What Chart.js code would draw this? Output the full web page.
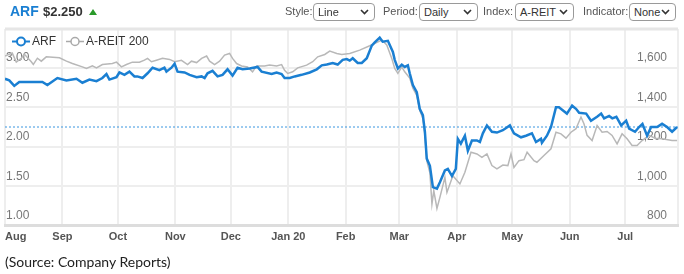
<!DOCTYPE html>
<html>
<head>
<meta charset="utf-8">
<script src="https://cdn.jsdelivr.net/npm/chart.js@4.4.1/dist/chart.umd.min.js"></script>
<style>
  html, body { margin:0; padding:0; background:#fff; }
  body { width:684px; height:274px; position:relative; overflow:hidden; font-family:"Liberation Sans", Arial, sans-serif; }
  #c { position:absolute; left:0; top:0; }
  .abs { position:absolute; white-space:nowrap; }
  .lbl { font-size:11px; color:#555; top:5px; }
  .sel { top:3px; height:16px; border:1px solid #9a9a9a; border-radius:4px; font-size:11px; color:#333; line-height:16px; padding-left:4px; box-sizing:content-box; background:#fff; }
  .sel svg { position:absolute; right:5px; top:5px; }
</style>
</head>
<body>
<canvas id="c" width="684" height="274"></canvas>
<div class="abs" style="left:10px;top:3px;font-size:14px;font-weight:bold;color:#1a7fd2;">ARF</div>
<div class="abs" style="left:43px;top:4px;font-size:13px;font-weight:bold;color:#333;">$2.250</div>
<div class="abs" style="left:89px;top:9px;width:0;height:0;border-left:4px solid transparent;border-right:4px solid transparent;border-bottom:6px solid #2a9a2a;"></div>

<div class="abs lbl" style="left:285px;">Style:</div>
<div class="abs sel" style="left:313px;width:56px;">Line<svg width="9" height="6"><polyline points="1,1 4.5,4.5 8,1" fill="none" stroke="#333" stroke-width="1.6"/></svg></div>
<div class="abs lbl" style="left:383px;">Period:</div>
<div class="abs sel" style="left:419px;width:53px;">Daily<svg width="9" height="6"><polyline points="1,1 4.5,4.5 8,1" fill="none" stroke="#333" stroke-width="1.6"/></svg></div>
<div class="abs lbl" style="left:483px;">Index:</div>
<div class="abs sel" style="left:515px;width:53px;">A-REIT<svg width="9" height="6"><polyline points="1,1 4.5,4.5 8,1" fill="none" stroke="#333" stroke-width="1.6"/></svg></div>
<div class="abs lbl" style="left:583px;">Indicator:</div>
<div class="abs sel" style="left:629px;width:41px;">None<svg width="9" height="6"><polyline points="1,1 4.5,4.5 8,1" fill="none" stroke="#333" stroke-width="1.6"/></svg></div>

<div class="abs" style="left:5px;top:253px;font-family:Lato, 'Open Sans', sans-serif;font-size:14px;color:#222;">(Source: Company Reports)</div>

<script>
// Day index = calendar days since 1 Aug 2019
const monthDays   = [0, 31, 61, 92, 122, 153, 184, 213, 244, 274, 305, 335, 363.5];
const monthLabels = ['Aug','Sep','Oct','Nov','Dec','Jan 20','Feb','Mar','Apr','May','Jun','Jul',''];
const priceTicks  = [1.00, 1.50, 2.00, 2.50, 3.00];
const indexTicks  = [800, 1000, 1200, 1400, 1600];
const lastPrice   = 2.25;

const arfDays = [0,2.3,5,7.7,13.1,20.2,22.9,28.3,33.2,38.6,41.8,45.6,49.4,52.6,54.8,56.4,60.2,61.8,64.5,67.2,69.9,71.5,74.3,77,79.7,83.4,86.1,87.2,89.9,91.6,93.2,97,99.7,103.5,106.2,107.8,109.4,112.1,114.8,117.5,120.2,122.9,125.6,128.3,132.1,136.4,138.6,144,146.7,149.4,151,153.8,156.5,160.2,164.6,168.4,171.1,173.8,177,179.7,182.4,184.6,186.2,187.8,190.5,192.7,195.4,198.1,199.7,202.4,204,206.8,209.5,210.5,212.2,214.3,215.9,217.6,218.6,220.3,222.4,224,225.7,226.8,227.8,229.5,231.1,233.3,234.9,237.6,239.2,241.4,243.5,244.6,246.2,248.4,250,252.2,254.9,256.5,258.1,260.3,263,265.7,268.9,272.7,274.9,278.7,281.4,284.6,286.8,289.5,290,292.7,294.9,297.6,299.2,301.9,303.5,306.3,308.4,310.1,313.9,316.5,319.8,322,323.6,326.3,328,330.2,332.8,335.5,337.1,340.3,342.5,344.3,346.8,349,352.2,354.9,357.6,360.3,363];
const arfPrices = [2.86,2.84,2.77,2.82,2.82,2.82,2.78,2.87,2.84,2.86,2.81,2.85,2.83,2.87,2.92,2.85,2.88,2.94,2.91,2.95,2.89,2.89,2.87,2.93,3.00,2.97,3.00,2.95,3.00,3.05,2.95,2.94,2.91,2.88,2.89,2.87,2.93,2.96,2.89,2.91,2.98,2.90,3.00,2.98,2.99,3.01,2.95,2.92,2.94,2.92,2.87,2.87,2.89,2.91,2.94,2.98,3.03,3.04,3.06,3.04,3.10,3.11,3.09,3.12,3.06,3.06,3.12,3.28,3.32,3.38,3.33,3.34,3.20,3.10,2.99,3.04,3.01,3.03,2.93,2.78,2.69,2.48,2.40,2.19,1.85,1.76,1.49,1.47,1.55,1.70,1.72,1.63,1.72,2.10,2.04,2.14,1.95,2.08,2.08,2.06,2.17,2.27,2.19,2.18,2.21,2.27,2.17,2.12,2.14,2.17,2.06,2.10,2.05,2.14,2.25,2.50,2.50,2.45,2.42,2.52,2.48,2.43,2.42,2.33,2.38,2.42,2.36,2.39,2.36,2.38,2.27,2.33,2.23,2.19,2.25,2.29,2.14,2.25,2.25,2.29,2.25,2.19,2.25];

const idxDays = [0,3.9,6.1,8.8,10.4,14.2,15.3,17.5,19.6,22.3,29.4,33.2,36.4,41.8,44,47.2,49.4,52.6,58,60.2,62.9,65.6,68.8,72.6,75.3,77,79.1,81.8,85.1,88.9,91.6,95.3,98.6,100.7,103.5,106.2,108.9,110.5,113.2,115.9,118.6,121.3,122.9,125.1,127.8,131,133.7,135.9,140.2,142.9,146.7,149.4,151,152.7,155.4,158.1,162.9,166.2,168.9,172.7,175.4,179.2,181.9,186.2,191.6,197,203.5,206.2,208.9,210.5,212.2,214.3,215.9,218.6,220.3,222.4,224,225.7,226.8,227.8,229.5,230.6,231.6,233.3,234.9,237.6,238.7,241.9,245.7,248.4,251.7,254.9,257.6,260.3,263,265.7,268.9,271.6,273.3,274.9,277.6,280.3,282,285.7,287.3,291.1,294.9,297.6,300.3,303,305.7,308.4,311.1,312.7,314.4,317.1,319.8,322.5,325.2,327.9,330.6,333.3,336,338.7,341.4,344.1,347.9,351.1,354.9,360.3,363];
const idxValues = [1660,1675,1629,1649,1670,1631,1617,1649,1634,1656,1651,1634,1622,1605,1597,1610,1600,1617,1622,1629,1605,1617,1629,1629,1639,1648,1631,1639,1649,1643,1631,1638,1617,1634,1627,1648,1660,1634,1617,1634,1665,1673,1648,1622,1610,1605,1580,1610,1610,1614,1610,1617,1588,1572,1580,1600,1614,1631,1656,1668,1685,1673,1668,1673,1690,1712,1741,1716,1648,1597,1572,1605,1580,1548,1497,1461,1385,1344,1258,1130,1069,910,978,888,944,1045,969,1054,1012,1071,1173,1164,1147,1164,1105,1088,1108,1105,1164,1096,1130,1135,1173,1130,1122,1156,1190,1274,1266,1244,1274,1292,1351,1317,1258,1232,1308,1274,1278,1258,1215,1266,1241,1207,1207,1232,1258,1244,1241,1232,1232];

const toXY = (xs, ys) => xs.map((x, i) => ({ x: x, y: ys[i] }));

const legendItems = [
  { text: 'ARF', color: '#1a7fd2' },
  { text: 'A-REIT 200', color: '#a9a9a9' }
];

const decorPlugin = {
  id: 'decor',
  beforeDatasetsDraw(chart) {
    const { ctx, chartArea: a } = chart;
    ctx.save();
    ctx.strokeStyle = '#e6e6e6';
    ctx.lineWidth = 3;
    ctx.beginPath();
    ctx.moveTo(a.left, a.top);
    ctx.lineTo(a.right, a.top);
    ctx.stroke();
    ctx.restore();
  },
  afterDraw(chart) {
    const { ctx, chartArea: a } = chart;
    ctx.save();
    ctx.font = '12px "Liberation Sans", Arial, sans-serif';
    ctx.textBaseline = 'middle';
    let x = a.left + 7;
    const y = a.top + 12.5;
    legendItems.forEach(it => {
      ctx.strokeStyle = it.color;
      ctx.lineWidth = it.text === 'ARF' ? 2 : 1.5;
      ctx.beginPath();
      ctx.moveTo(x, y); ctx.lineTo(x + 18, y);
      ctx.stroke();
      ctx.beginPath();
      ctx.arc(x + 9, y, 4, 0, Math.PI * 2);
      ctx.fillStyle = '#fff';
      ctx.fill();
      ctx.stroke();
      ctx.fillStyle = '#333';
      ctx.fillText(it.text, x + 20, y + 0.5);
      x += 20 + ctx.measureText(it.text).width + 10;
    });
    ctx.restore();
  }
};

new Chart(document.getElementById('c'), {
  type: 'line',
  data: {
    datasets: [
      { label: 'ARF', data: toXY(arfDays, arfPrices), yAxisID: 'y', borderColor: '#1a7fd2', borderWidth: 2.5, pointRadius: 0, tension: 0, order: 0 },
      { label: 'A-REIT 200', data: toXY(idxDays, idxValues), yAxisID: 'y1', borderColor: '#b8b8b8', borderWidth: 1.5, pointRadius: 0, tension: 0, order: 1 },
      { label: 'last', data: [{ x: 0, y: lastPrice }, { x: 363.5, y: lastPrice }], yAxisID: 'y', borderColor: '#3a97e0', borderWidth: 1, borderDash: [2, 2], pointRadius: 0, order: 2 }
    ]
  },
  options: {
    responsive: false,
    animation: false,
    events: [],
    layout: { padding: { left: 5, right: 6, top: 29, bottom: 25 } },
    plugins: { legend: { display: false }, tooltip: { enabled: false } },
    scales: {
      x: {
        type: 'linear', min: 0, max: 363.5,
        afterBuildTicks: s => { s.ticks = monthDays.map(v => ({ value: v })); },
        grid: { color: '#eeeeee', lineWidth: 2, drawTicks: false },
        border: { color: '#dddddd', width: 3 },
        ticks: {
          autoSkip: false, maxRotation: 0, align: 'inner', padding: 5,
          color: '#555', font: { family: '"Liberation Sans", Arial, sans-serif', size: 11, weight: 'bold' },
          callback: v => { const i = monthDays.indexOf(v); return i >= 0 ? monthLabels[i] : ''; }
        }
      },
      y: {
        position: 'left', min: 1.0, max: 3.49,
        afterBuildTicks: s => { s.ticks = priceTicks.map(v => ({ value: v })); },
        afterFit: s => { s.width = 0; },
        grid: { color: '#eeeeee', lineWidth: 2, drawTicks: false },
        border: { display: false },
        ticks: {
          mirror: true, padding: 1, labelOffset: -10,
          color: '#777', font: { family: '"Liberation Sans", Arial, sans-serif', size: 12 },
          callback: v => v.toFixed(2)
        }
      },
      y1: {
        position: 'right', min: 800, max: 1797,
        afterBuildTicks: s => { s.ticks = indexTicks.map(v => ({ value: v })); },
        afterFit: s => { s.width = 0; },
        grid: { display: false, drawTicks: false },
        border: { display: false },
        ticks: {
          mirror: true, padding: -11, labelOffset: -10,
          color: '#777', font: { family: '"Liberation Sans", Arial, sans-serif', size: 12 },
          callback: v => v.toLocaleString('en-US')
        }
      }
    }
  },
  plugins: [decorPlugin]
});
</script>
</body>
</html>
